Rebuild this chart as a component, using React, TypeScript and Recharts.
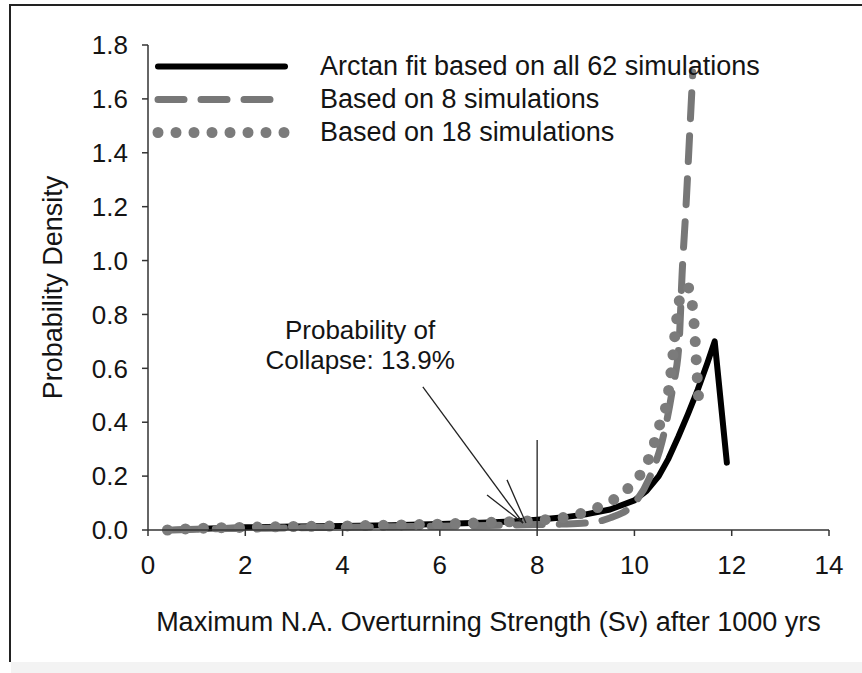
import React from "react";
import { LineChart, Line, XAxis, YAxis, ReferenceLine, ReferenceDot } from "recharts";

// x positions (Sv) and densities
const fitX = [0.5, 1, 2, 3, 4, 5, 6, 7, 7.5, 8, 8.5, 9, 9.5, 10, 10.25, 10.5, 10.7, 10.9, 11.1, 11.3, 11.5, 11.65, 11.9];
const fitY = [0.0, 0.004, 0.01, 0.013, 0.015, 0.018, 0.022, 0.028, 0.032, 0.038, 0.046, 0.058, 0.076, 0.11, 0.145, 0.2, 0.265, 0.345, 0.43, 0.52, 0.62, 0.7, 0.25];

const sim8X = [0.5, 1, 2, 3, 4, 5, 6, 7, 8, 8.5, 9, 9.5, 10, 10.3, 10.57, 10.78, 10.92, 10.98, 11.06, 11.13, 11.2];
const sim8Y = [0.0, 0.003, 0.006, 0.008, 0.01, 0.012, 0.014, 0.017, 0.02, 0.022, 0.026, 0.045, 0.1, 0.19, 0.33, 0.52, 0.7, 0.95, 1.2, 1.45, 1.7];

const sim18X = [0.4, 1, 2, 3, 4, 5, 6, 7, 8, 8.5, 9.2, 9.55, 9.9, 10.17, 10.35, 10.5, 10.68, 10.78, 10.86, 10.95, 11.1, 11.2, 11.25, 11.28, 11.32];
const sim18Y = [0.0, 0.006, 0.01, 0.013, 0.015, 0.018, 0.022, 0.028, 0.036, 0.045, 0.08, 0.11, 0.16, 0.22, 0.29, 0.38, 0.49, 0.63, 0.77, 0.87, 0.9, 0.82, 0.7, 0.6, 0.49];

const xTicks = [0, 2, 4, 6, 8, 10, 12, 14];
const yTicks = [0, 0.2, 0.4, 0.6, 0.8, 1.0, 1.2, 1.4, 1.6, 1.8];

const toPoints = (xs: number[], ys: number[]) => xs.map((x, i) => ({ x, y: ys[i] }));

const series = [
  { name: "Arctan fit based on all 62 simulations", data: toPoints(fitX, fitY), stroke: "#000", width: 6, dash: undefined as string | undefined, curve: "linear" as const },
  { name: "Based on 8 simulations", data: toPoints(sim8X, sim8Y), stroke: "#777", width: 7, dash: "26 17", curve: "monotone" as const },
  { name: "Based on 18 simulations", data: toPoints(sim18X, sim18Y), stroke: "#7b7b7b", width: 11, dash: "0 18", curve: "monotone" as const },
];

const FONT = "'Liberation Sans', Arial, sans-serif";
const INK = "#141414";

function Annotation(props: any) {
  const vb = props.viewBox || {};
  const cx = (vb.x ?? 0) + (vb.width ?? 0) / 2;
  const cy = (vb.y ?? 0) + (vb.height ?? 0) / 2;
  return (
    <text x={cx} y={cy} textAnchor="middle" fontFamily={FONT} fontSize={26} fill={INK}>
      <tspan x={cx} dy={-6}>Probability of</tspan>
      <tspan x={cx} dy={30}>Collapse: 13.9%</tspan>
    </text>
  );
}

function LegendBox() {
  return (
    <div style={{ position: "absolute", left: 150, top: 50, fontFamily: FONT, fontSize: 27, color: INK }}>
      {series.map((s) => (
        <div key={s.name} style={{ display: "flex", alignItems: "center", height: 33 }}>
          <svg width={170} height={33}>
            <line
              x1={8}
              x2={s.dash === "0 18" ? 135 : s.dash ? 122 : 135}
              y1={16.5}
              y2={16.5}
              stroke={s.stroke}
              strokeWidth={s.width}
              strokeDasharray={s.dash}
              strokeLinecap="round"
            />
          </svg>
          <span style={{ lineHeight: "33px", whiteSpace: "nowrap" }}>{s.name}</span>
        </div>
      ))}
    </div>
  );
}

export default function App() {
  return (
    <div style={{ position: "absolute", left: 0, top: 0, width: 862, height: 673, background: "#fff" }}>
      <div style={{ position: "absolute", left: 9, top: 4, width: 853, height: 656, borderTop: "2px solid #222", borderLeft: "2px solid #222" }} />
      <div style={{ position: "absolute", left: 11, top: 662, width: 851, height: 11, background: "#f3f3f3" }} />
      <div style={{ position: "absolute", left: 0, top: 0 }}>
        <LineChart width={862} height={673} margin={{ top: 45, right: 33, bottom: 0, left: 0 }}>
          <XAxis
            dataKey="x"
            type="number"
            domain={[0, 14]}
            ticks={xTicks}
            allowDataOverflow
            height={143}
            tickSize={6}
            tickMargin={20}
            tick={{ fill: INK, fontSize: 26, fontFamily: FONT }}
            axisLine={{ stroke: "#333", strokeWidth: 1.5 }}
            tickLine={{ stroke: "#333", strokeWidth: 1.5 }}
            label={{
              value: "Maximum N.A. Overturning Strength (Sv) after 1000 yrs",
              position: "center",
              dy: 20,
              fill: INK,
              fontSize: 27,
              fontFamily: FONT,
            }}
          />
          <XAxis xAxisId="top" orientation="top" type="number" domain={[0, 14]} height={0} tick={false} tickLine={false} axisLine={{ stroke: "#333", strokeWidth: 1.5 }} />
          <YAxis
            type="number"
            domain={[0, 1.8]}
            ticks={yTicks}
            width={148}
            tickSize={6}
            tickMargin={14}
            tickFormatter={(v: number) => v.toFixed(1)}
            tick={{ fill: INK, fontSize: 26, fontFamily: FONT }}
            axisLine={{ stroke: "#333", strokeWidth: 1.5 }}
            tickLine={{ stroke: "#333", strokeWidth: 1.5 }}
            label={{
              value: "Probability Density",
              angle: -90,
              position: "center",
              dx: -22,
              fill: INK,
              fontSize: 27,
              fontFamily: FONT,
            }}
          />
          <YAxis yAxisId="right" orientation="right" type="number" domain={[0, 1.8]} width={0} tick={false} tickLine={false} axisLine={{ stroke: "#333", strokeWidth: 1.5 }} />
          {series.map((s) => (
            <Line
              key={s.name}
              name={s.name}
              data={s.data}
              dataKey="y"
              type={s.curve}
              stroke={s.stroke}
              strokeWidth={s.width}
              strokeDasharray={s.dash}
              strokeLinecap="round"
              strokeLinejoin="round"
              dot={false}
              activeDot={false}
              isAnimationActive={false}
            />
          ))}
          <ReferenceLine segment={[{ x: 5.65, y: 0.531 }, { x: 7.71, y: 0.026 }]} stroke="#222" strokeWidth={1.3} />
          <ReferenceLine segment={[{ x: 6.97, y: 0.13 }, { x: 7.71, y: 0.026 }]} stroke="#222" strokeWidth={1.3} />
          <ReferenceLine segment={[{ x: 7.38, y: 0.186 }, { x: 7.77, y: 0.026 }]} stroke="#222" strokeWidth={1.3} />
          <ReferenceLine segment={[{ x: 8, y: 0 }, { x: 8, y: 0.334 }]} stroke="#222" strokeWidth={1.3} />
          <ReferenceDot x={4.36} y={0.687} r={0} fill="none" stroke="none" label={<Annotation />} />
        </LineChart>
      </div>
      <LegendBox />
    </div>
  );
}
